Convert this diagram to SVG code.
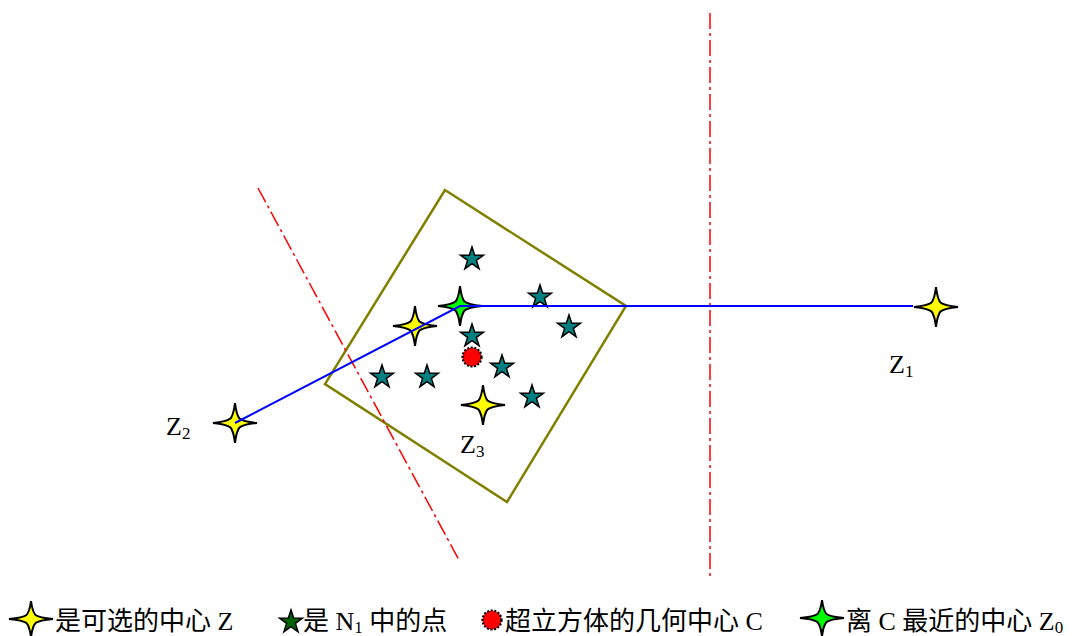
<svg xmlns="http://www.w3.org/2000/svg" xmlns:xlink="http://www.w3.org/1999/xlink" width="1073" height="636" viewBox="0 0 1073 636">
<style>
.star4{stroke:#000;stroke-width:2;stroke-linejoin:miter}
.yel{fill:#ffff00}
.grn{fill:#00ff00}
.teal{fill:#008080;stroke:#000;stroke-width:1.5;stroke-linejoin:miter}
.dkg{fill:#006400;stroke:#000;stroke-width:1.5;stroke-linejoin:miter}
.red{fill:#ff0000}
.gear{fill:none;stroke:#000;stroke-width:2.2;stroke-dasharray:2 1.6}
.dashdot{fill:none;stroke:#ff0000;stroke-width:1.5;stroke-dasharray:16 4 3 4}
.blue{fill:none;stroke:#0000ff;stroke-width:2}
.lbl{font-family:"Liberation Serif","Noto Sans CJK SC",serif;font-size:26px;fill:#000}
.leg{font-family:"Liberation Serif","Noto Sans CJK SC",serif;font-size:26px;fill:#000}
</style>
<defs>
<path id="s4" d="M0,-20 Q1.5,-8 4.5,-4.5 Q8,-1.5 22,0 Q8,1.5 4.5,4.5 Q1.5,8 0,20 Q-1.5,8 -4.5,4.5 Q-8,1.5 -22,0 Q-8,-1.5 -4.5,-4.5 Q-1.5,-8 0,-20 Z"/>
<path id="s5" d="M0,-12 L2.7,-3.7 L11.4,-3.7 L4.4,1.4 L7.1,9.7 L0,4.6 L-7.1,9.7 L-4.4,1.4 L-11.4,-3.7 L-2.7,-3.7 Z"/>
</defs>
<rect width="1073" height="636" fill="#fff"/>

<g id="hypercube">
<polygon points="445,190 626,306 507,502 325,384" fill="none" stroke="#808000" stroke-width="2.5"/>
</g>

<g id="boundaries">
<line class="dashdot" x1="710" y1="13" x2="710" y2="578"/>
<line class="dashdot" x1="258" y1="188" x2="459" y2="560"/>
</g>

<g id="points-N1">
<use href="#s5" class="teal" x="472" y="259"/>
<use href="#s5" class="teal" x="540" y="297"/>
<use href="#s5" class="teal" x="569" y="327"/>
<use href="#s5" class="teal" x="472" y="336"/>
<use href="#s5" class="teal" x="502" y="367"/>
<use href="#s5" class="teal" x="532" y="397"/>
<use href="#s5" class="teal" x="382" y="377"/>
<use href="#s5" class="teal" x="427" y="377"/>
</g>

<g id="center-C">
<circle cx="472" cy="357" r="9.5" class="red"/>
<circle cx="472" cy="357" r="9.5" class="gear"/>
</g>

<g id="Z-left"><use href="#s4" class="star4 yel" x="415" y="326"/></g>
<g id="Z3"><use href="#s4" class="star4 yel" x="483" y="405"/>
<text class="lbl" x="460" y="453">Z<tspan font-size="17" dy="4">3</tspan></text></g>
<g id="Z2"><use href="#s4" class="star4 yel" x="235" y="423"/>
<text class="lbl" x="166" y="435">Z<tspan font-size="17" dy="4">2</tspan></text></g>
<g id="Z1"><use href="#s4" class="star4 yel" x="936" y="307"/>
<text class="lbl" x="889" y="373">Z<tspan font-size="17" dy="4">1</tspan></text></g>
<g id="Z0"><use href="#s4" class="star4 grn" x="460" y="306"/></g>

<g id="connectors">
<polyline class="blue" points="235,423 460,306 913,306"/>
</g>

<g id="legend">
<use href="#s4" class="star4 yel" x="31" y="619" transform="translate(31,619) scale(1,0.9) translate(-31,-619)"/>
<text class="leg" x="55" y="630">是可选的中心 Z</text>
<use href="#s5" class="dkg" x="291" y="622"/>
<text class="leg" x="303" y="630">是 N<tspan font-size="17" dy="3">1</tspan><tspan dy="-3"> 中的点</tspan></text>
<circle cx="492" cy="620" r="9.5" class="red"/>
<circle cx="492" cy="620" r="9.5" class="gear"/>
<text class="leg" x="505" y="630">超立方体的几何中心 C</text>
<use href="#s4" class="star4 grn" x="822" y="618" transform="translate(822,618) scale(1,0.9) translate(-822,-618)"/>
<text class="leg" x="846" y="630">离 C 最近的中心 Z<tspan font-size="17" dy="3">0</tspan></text>
</g>
</svg>
